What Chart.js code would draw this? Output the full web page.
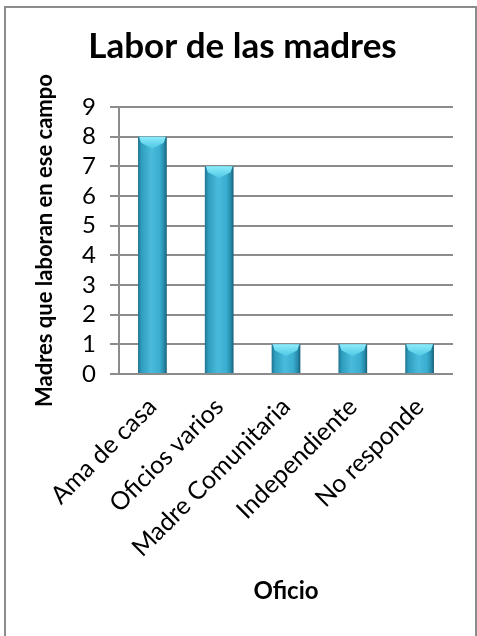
<!DOCTYPE html>
<html>
<head>
<meta charset="utf-8">
<script src="https://cdn.jsdelivr.net/npm/chart.js@4.4.1/dist/chart.umd.min.js"></script>
<style>
  html, body { margin: 0; padding: 0; background: #fff; }
  #wrap { width: 477px; height: 636px; }
</style>
</head>
<body>
<div id="wrap"><canvas id="myChart" width="477" height="636"></canvas></div>
<script>
var categories = ["Ama de casa", "Oficios varios", "Madre Comunitaria", "Independiente", "No responde"];
var madres = [8, 7, 1, 1, 1];
var yTicks = [0, 1, 2, 3, 4, 5, 6, 7, 8, 9];

var BAR_PCT = 0.43;

// gradient across the bar width, computed from the x scale
function barFill(c) {
  var chart = c.chart;
  var x = chart.scales.x;
  if (!x || !chart.chartArea || c.dataIndex === undefined) return "#38acce";
  var cx = x.getPixelForValue(c.dataIndex);
  var w = (x.width / categories.length) * BAR_PCT;
  var g = chart.ctx.createLinearGradient(cx - w / 2, 0, cx + w / 2, 0);
  g.addColorStop(0, "#1f7390");
  g.addColorStop(0.12, "#2e9dbe");
  g.addColorStop(0.45, "#4abbdc");
  g.addColorStop(0.75, "#3aaed0");
  g.addColorStop(0.9, "#278cab");
  g.addColorStop(1, "#185f77");
  return g;
}

// light bevel on top of each bar + outer frame
var bevel = {
  id: "bevel",
  afterDatasetsDraw: function (chart) {
    var ctx = chart.ctx;
    chart.getDatasetMeta(0).data.forEach(function (bar) {
      var l = bar.x - bar.width / 2, r = bar.x + bar.width / 2, t = bar.y;
      var d = Math.min(12, bar.height);
      ctx.save();
      var g = ctx.createLinearGradient(0, t, 0, t + d);
      g.addColorStop(0, "#8cecfb");
      g.addColorStop(1, "#4cc6e2");
      ctx.fillStyle = g;
      ctx.beginPath();
      ctx.moveTo(l + 1, t);
      ctx.lineTo(r - 1, t);
      ctx.lineTo(r - 3, t + d * 0.5);
      ctx.lineTo(bar.x, t + d);
      ctx.lineTo(l + 3, t + d * 0.5);
      ctx.closePath();
      ctx.fill();
      ctx.restore();
    });
  },
  beforeDraw: function (chart) {
    var ctx = chart.ctx;
    ctx.save();
    ctx.strokeStyle = "#8c8c8c";
    ctx.lineWidth = 2;
    ctx.beginPath();
    ctx.moveTo(5, 640);
    ctx.lineTo(5, 7);
    ctx.lineTo(476, 7);
    ctx.lineTo(476, 640);
    ctx.stroke();
    ctx.restore();
  }
};

var ctx = document.getElementById("myChart");
var myChart = new Chart(ctx, {
  type: "bar",
  data: {
    labels: categories,
    datasets: [
      {
        label: "Madres",
        data: madres,
        backgroundColor: barFill,
        borderWidth: 0,
        barPercentage: BAR_PCT,
        categoryPercentage: 1,
      },
    ],
  },
  plugins: [bevel],
  options: {
    responsive: false,
    animation: false,
    layout: {
      padding: { left: 32, right: 24, top: 18, bottom: 24 },
    },
    plugins: {
      legend: { display: false },
      tooltip: { enabled: false },
      title: {
        display: true,
        text: "Labor de las madres",
        color: "#000",
        font: { family: "Lato", size: 35, weight: "bold" },
        padding: { top: 8, bottom: 39 },
      },
    },
    scales: {
      x: {
        grid: { display: false },
        border: { display: false },
        ticks: {
          color: "#000",
          font: { family: "Lato", size: 25 },
          minRotation: 45,
          maxRotation: 45,
          padding: 10,
        },
        title: {
          display: true,
          text: "Oficio",
          color: "#000",
          font: { family: "Lato", size: 24, weight: "bold" },
          padding: { top: 0, bottom: 6 },
        },
        afterFit: function (s) { s.height = 238; },
      },
      y: {
        min: 0,
        max: 9,
        afterBuildTicks: function (s) {
          s.ticks = yTicks.map(function (v) { return { value: v }; });
        },
        grid: {
          color: "#8c8c8c",
          lineWidth: 2,
          tickLength: 9,
        },
        border: { color: "#8c8c8c", width: 2 },
        ticks: {
          color: "#000",
          font: { family: "Lato", size: 24 },
          padding: 14,
          autoSkip: false,
        },
        title: {
          display: true,
          text: "Madres que laboran en ese campo",
          color: "#000",
          font: { family: "Lato", size: 22, weight: "bold" },
          padding: { top: 0, bottom: 0 },
        },
        afterFit: function (s) { s.width = 87; },
      },
    },
  },
});
</script>
</body>
</html>
